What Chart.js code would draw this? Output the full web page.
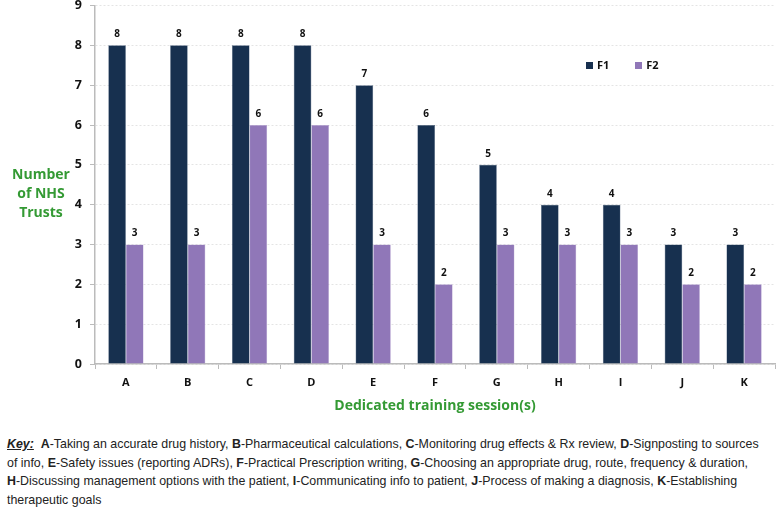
<!DOCTYPE html>
<html>
<head>
<meta charset="utf-8">
<script src="https://cdn.jsdelivr.net/npm/chart.js@4"></script>
<style>
  body { margin: 0; background: #fff; width: 778px; height: 508px; position: relative; overflow: hidden; }
  #wrap { position: absolute; left: 0; top: -10px; width: 778px; height: 430px; }
  .green { color: #349a34; font-family: "Open Sans", sans-serif; font-weight: bold; position: absolute; }
  #ytitle { left: 0; top: 164px; width: 82px; text-align: center; font-size: 14px; line-height: 19px; }
  #xtitle { left: 95px; width: 680px; top: 395px; text-align: center; font-size: 14px; }
  #legend { position: absolute; left: 586px; top: 57px; font: bold 11px "Open Sans", sans-serif; color: #111; }
  #legend span.box { display: inline-block; width: 7px; height: 7px; margin-right: 4px; vertical-align: 0px; }
  #key { position: absolute; left: 7px; top: 435px; width: 772px; font: 12.4px "Liberation Sans Narrow", sans-serif; line-height: 18.5px; color: #222; }
  #key b { font-weight: bold; }
</style>
</head>
<body>
<div id="wrap"><canvas id="myChart"></canvas></div>
<div id="ytitle" class="green">Number<br>of NHS<br>Trusts</div>
<div id="xtitle" class="green">Dedicated training session(s)</div>
<div id="legend">
  <span class="box" style="background:#17304f"></span>F1<span style="display:inline-block;width:26px"></span><span class="box" style="background:#9077b8"></span>F2
</div>
<div id="key"><b><u><i>Key:</i></u></b>&nbsp; <b>A</b>-Taking an accurate drug history, <b>B</b>-Pharmaceutical calculations, <b>C</b>-Monitoring drug effects &amp; Rx review, <b>D</b>-Signposting to sources<br>of info, <b>E</b>-Safety issues (reporting ADRs), <b>F</b>-Practical Prescription writing, <b>G</b>-Choosing an appropriate drug, route, frequency &amp; duration,<br><b>H</b>-Discussing management options with the patient, <b>I</b>-Communicating info to patient, <b>J</b>-Process of making a diagnosis, <b>K</b>-Establishing<br>therapeutic goals</div>

<script>
const sessions = ['A', 'B', 'C', 'D', 'E', 'F', 'G', 'H', 'I', 'J', 'K'];
const f1Values = [8, 8, 8, 8, 7, 6, 5, 4, 4, 3, 3];
const f2Values = [3, 3, 6, 6, 3, 2, 3, 3, 3, 2, 2];
const yTicks = [0, 1, 2, 3, 4, 5, 6, 7, 8, 9];

const ctx = document.getElementById('myChart');

// numbers above every bar
const barLabels = {
    id: 'barLabels',
    afterDatasetsDraw(chart) {
        const c = chart.ctx;
        c.save();
        c.font = 'bold 10px "Open Sans", sans-serif';
        c.fillStyle = '#111';
        c.textAlign = 'center';
        c.textBaseline = 'bottom';
        chart.data.datasets.forEach((ds, i) => {
            chart.getDatasetMeta(i).data.forEach((bar, j) => {
                c.fillText(ds.data[j], bar.x, bar.y - 6);
            });
        });
        c.restore();
    }
};

let myChart = new Chart(ctx, {
    type: 'bar',
    data: {
        labels: sessions,
        datasets: [{
            label: 'F1',
            data: f1Values,
            backgroundColor: '#17304f',
            borderColor: '#4a5f7a',
            borderWidth: 0.5
        }, {
            label: 'F2',
            data: f2Values,
            backgroundColor: '#9077b8',
            borderColor: '#b3a2cf',
            borderWidth: 0.5
        }]
    },
    options: {
        responsive: true,
        maintainAspectRatio: false,
        animation: false,
        layout: { padding: { top: 5, right: 3, left: 0, bottom: 0 } },
        plugins: {
            legend: { display: false },
            tooltip: { enabled: false }
        },
        datasets: {
            bar: { barPercentage: 1, categoryPercentage: 0.57 }
        },
        scales: {
            x: {
                afterFit: s => { s.height = 56; },
                grid: {
                    display: true,
                    drawOnChartArea: false,
                    tickLength: 5,
                    color: '#bbb'
                },
                border: { color: '#bbb', width: 1.5 },
                ticks: {
                    padding: 7,
                    color: '#111',
                    font: { family: '"Open Sans", sans-serif', weight: 'bold', size: 11 }
                }
            },
            y: {
                min: 0,
                max: 9,
                afterFit: s => { s.width = 95; },
                afterBuildTicks: s => { s.ticks = yTicks.map(v => ({ value: v })); },
                grid: {
                    color: '#e4e4e4',
                    tickLength: 5,
                    tickColor: '#bbb'
                },
                border: { color: '#bbb', width: 1.5, dash: [2, 2] },
                ticks: {
                    padding: 8,
                    color: '#111',
                    font: { family: '"Open Sans", sans-serif', weight: 'bold', size: 12.5 }
                }
            }
        }
    },
    plugins: [barLabels]
});
</script>
</body>
</html>
